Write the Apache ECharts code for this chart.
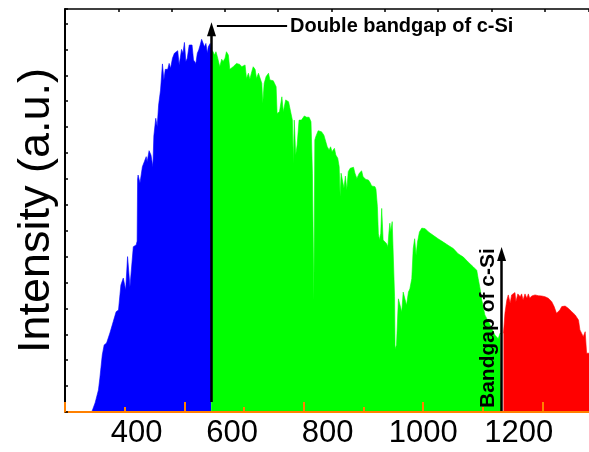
<!DOCTYPE html>
<html><head><meta charset="utf-8">
<script src="https://cdn.jsdelivr.net/npm/echarts@6/dist/echarts.min.js"></script>
<style>html,body{margin:0;padding:0;background:#fff}#c{width:589px;height:452px}</style>
</head><body><div id="c"></div>
<script>
// wavelength (nm) and intensity (a.u.)
const blueNm  = [306,313,320,323,328,332,337,344,351,357,362,367,372,377,381,386,393,399,401,402,403,407,412,416,420,422,426,430,434,436,440,443,446,450,454,457,460,465,468,471,475,479,482,486,489,494,497,500,503,506,510,514,516,519,524,527,530,533,536,539,542,545,548,550,554,556];
const blueVal = [0,0.035,0.085,0.131,0.220,0.259,0.266,0.305,0.349,0.387,0.394,0.490,0.517,0.471,0.600,0.484,0.638,0.645,0.660,0.900,0.915,0.884,0.947,0.966,0.986,0.966,1.009,0.992,0.947,1.066,1.134,1.102,1.185,1.243,1.344,1.282,1.323,1.323,1.346,1.327,1.366,1.385,1.391,1.395,1.340,1.400,1.385,1.427,1.353,1.366,1.417,1.410,1.417,1.359,1.346,1.385,1.398,1.417,1.439,1.434,1.410,1.423,1.385,1.410,1.423,1.400];

const greenNm  = [556,560,563,566,569,572,574,578,581,585,588,592,595,599,602,606,609,616,620,623,627,630,634,637,641,644,648,651,655,658,662,664,667,671,676,679,686,692,694,699,704,707,712,718,722,726,728,730,733,736,740,745,751,756,761,765,768,771,773,775,780,787,792,796,799,803,806,809,814,817,821,824,826,828,831,834,837,840,843,847,850,854,857,861,866,871,874,880,885,889,892,895,899,901,904,906,908,911,913,915,916,920,923,926,928,930,932,935,938,940,941,944,948,951,955,958,962,965,969,972,976,979,982,985,988,992,997,1004,1011,1021,1031,1042,1052,1063,1073,1084,1094,1105,1112,1115,1119,1122,1129,1140,1150,1157,1161,1163];
const greenVal = [1.400,1.391,1.378,1.391,1.372,1.378,1.333,1.362,1.353,1.366,1.391,1.378,1.323,1.320,1.333,1.336,1.346,1.342,1.333,1.327,1.340,1.288,1.308,1.285,1.314,1.333,1.323,1.288,1.308,1.310,1.269,1.192,1.269,1.295,1.308,1.282,1.279,1.256,1.153,1.159,1.217,1.159,1.205,1.198,1.198,1.127,0.960,1.127,0.992,1.031,1.127,1.127,1.143,1.138,1.138,1.121,0.922,0.432,1.050,1.063,1.086,1.082,1.069,1.063,1.024,1.012,1.024,1.005,1.018,0.992,0.980,0.947,0.831,0.922,0.928,0.864,0.911,0.857,0.928,0.941,0.934,0.945,0.922,0.902,0.922,0.931,0.908,0.898,0.896,0.885,0.873,0.879,0.870,0.860,0.793,0.690,0.664,0.690,0.786,0.780,0.664,0.658,0.651,0.638,0.690,0.729,0.696,0.735,0.729,0.445,0.244,0.259,0.437,0.444,0.386,0.463,0.457,0.412,0.463,0.476,0.515,0.631,0.669,0.605,0.656,0.695,0.710,0.708,0.695,0.682,0.669,0.656,0.644,0.631,0.611,0.598,0.579,0.560,0.547,0.515,0.476,0.437,0.375,0.336,0.297,0.283,0.305,0.300];

const redNm  = [1168,1171,1175,1178,1182,1185,1189,1192,1194,1198,1203,1206,1209,1213,1217,1220,1223,1227,1234,1241,1248,1255,1262,1269,1274,1279,1283,1286,1290,1297,1304,1311,1318,1325,1328,1332,1335,1339,1342,1345,1347];
const redVal = [0.304,0.381,0.432,0.452,0.420,0.452,0.458,0.461,0.426,0.456,0.445,0.456,0.432,0.456,0.439,0.456,0.439,0.448,0.452,0.449,0.448,0.445,0.439,0.426,0.407,0.381,0.375,0.394,0.407,0.409,0.400,0.387,0.375,0.355,0.317,0.310,0.291,0.310,0.227,0.227,0.227];

const xTickLabels = [400, 600, 800, 1000, 1200];
const xMajorTicks = [250, 500, 750, 1000, 1250];
const xMinorTicks = [375, 625, 875, 1125];

// annotation anchors (data coordinates)
const doubleArrow = [[556.7, 0.039], [556.7, 1.478]];
const doubleLeader = [[568, 1.490], [715, 1.490]];
const doubleText = [721, 1.490];
const gapArrow = [[1164, 0], [1164, 0.610]];
const gapText = [1136, 0.324];

const FONT = '"Liberation Sans", Arial, Helvetica, sans-serif';
const pairs = (a, b) => a.map((x, i) => [x, b[i]]);

const chart = echarts.init(document.getElementById('c'), null, {renderer: 'canvas'});
const areaSeries = (name, nm, val, color) => ({
  name, type: 'line', xAxisIndex: 0, yAxisIndex: 0, z: 2,
  data: pairs(nm, val), showSymbol: false, symbol: 'none', smooth: false,
  lineStyle: {color, width: 0.6}, areaStyle: {color, opacity: 1}, silent: true
});

const red = areaSeries('red', redNm, redVal, '#ff0000');
red.markLine = {
  silent: true, animation: false, z: 10,
  symbol: ['none', 'triangle'], symbolSize: [9, 14],
  label: {show: false},
  lineStyle: {color: '#000', width: 2.5, type: 'solid'},
  data: [
    [{coord: doubleArrow[0]}, {coord: doubleArrow[1]}],
    [{coord: gapArrow[0]}, {coord: gapArrow[1]}],
    [{coord: doubleLeader[0], symbol: 'none', lineStyle: {width: 2}}, {coord: doubleLeader[1], symbol: 'none', lineStyle: {width: 2}}]
  ]
};

chart.setOption({
  animation: false,
  grid: {left: 65, right: 0, top: 9, bottom: 40},
  xAxis: [
    {type: 'value', position: 'bottom', min: 250, max: 1347, z: 20,
     axisLine: {show: true, onZero: false, lineStyle: {color: '#ff8000', width: 2}},
     axisTick: {show: true, inside: true, length: 10, customValues: xMajorTicks, lineStyle: {color: '#ff8000', width: 2}},
     axisLabel: {show: true, margin: 6, fontSize: 31, fontFamily: FONT, color: '#000', customValues: xTickLabels, formatter: v => String(v)},
     splitLine: {show: false}},
    {type: 'value', position: 'bottom', offset: 0, min: 250, max: 1347, z: 20,
     axisLine: {show: false, onZero: false},
     axisTick: {show: true, inside: true, length: 5, customValues: xMinorTicks, lineStyle: {color: '#ff8000', width: 2}},
     axisLabel: {show: false}, splitLine: {show: false}},
    {type: 'value', position: 'top', min: 0, max: 9.83, interval: 1, z: 20,
     axisLine: {show: true, onZero: false, lineStyle: {color: '#000', width: 1.5}},
     axisTick: {show: true, inside: true, length: 3, lineStyle: {color: '#000', width: 1.5}},
     axisLabel: {show: false}, splitLine: {show: false}}
  ],
  yAxis: [{
    type: 'value', min: 0, max: 1.556, interval: 0.1, z: 20,
    axisLine: {show: true, onZero: false, lineStyle: {color: '#000', width: 2}},
    axisTick: {show: true, inside: true, length: 3, lineStyle: {color: '#000', width: 1.5}},
    axisLabel: {show: false}, splitLine: {show: false},
    name: 'Intensity (a.u.)', nameLocation: 'middle', nameGap: 6,
    nameTextStyle: {fontSize: 45, fontFamily: FONT, color: '#000'}
  }],
  series: [
    areaSeries('blue', blueNm, blueVal, '#0000ff'),
    areaSeries('green', greenNm, greenVal, '#00ff00'),
    red
  ]
});

const p1 = chart.convertToPixel({xAxisIndex: 0, yAxisIndex: 0}, doubleText);
const p2 = chart.convertToPixel({xAxisIndex: 0, yAxisIndex: 0}, gapText);
chart.setOption({
  graphic: [
    {type: 'text', x: p1[0], y: p1[1], z: 100,
     style: {text: 'Double bandgap of c-Si', font: 'bold 20px ' + FONT, fill: '#000', align: 'left', verticalAlign: 'middle'}},
    {type: 'text', x: p2[0], y: p2[1], rotation: Math.PI / 2, z: 100,
     style: {text: 'Bandgap of c-Si', font: 'bold 21px ' + FONT, fill: '#000', align: 'center', verticalAlign: 'middle'}}
  ]
});
</script></body></html>
